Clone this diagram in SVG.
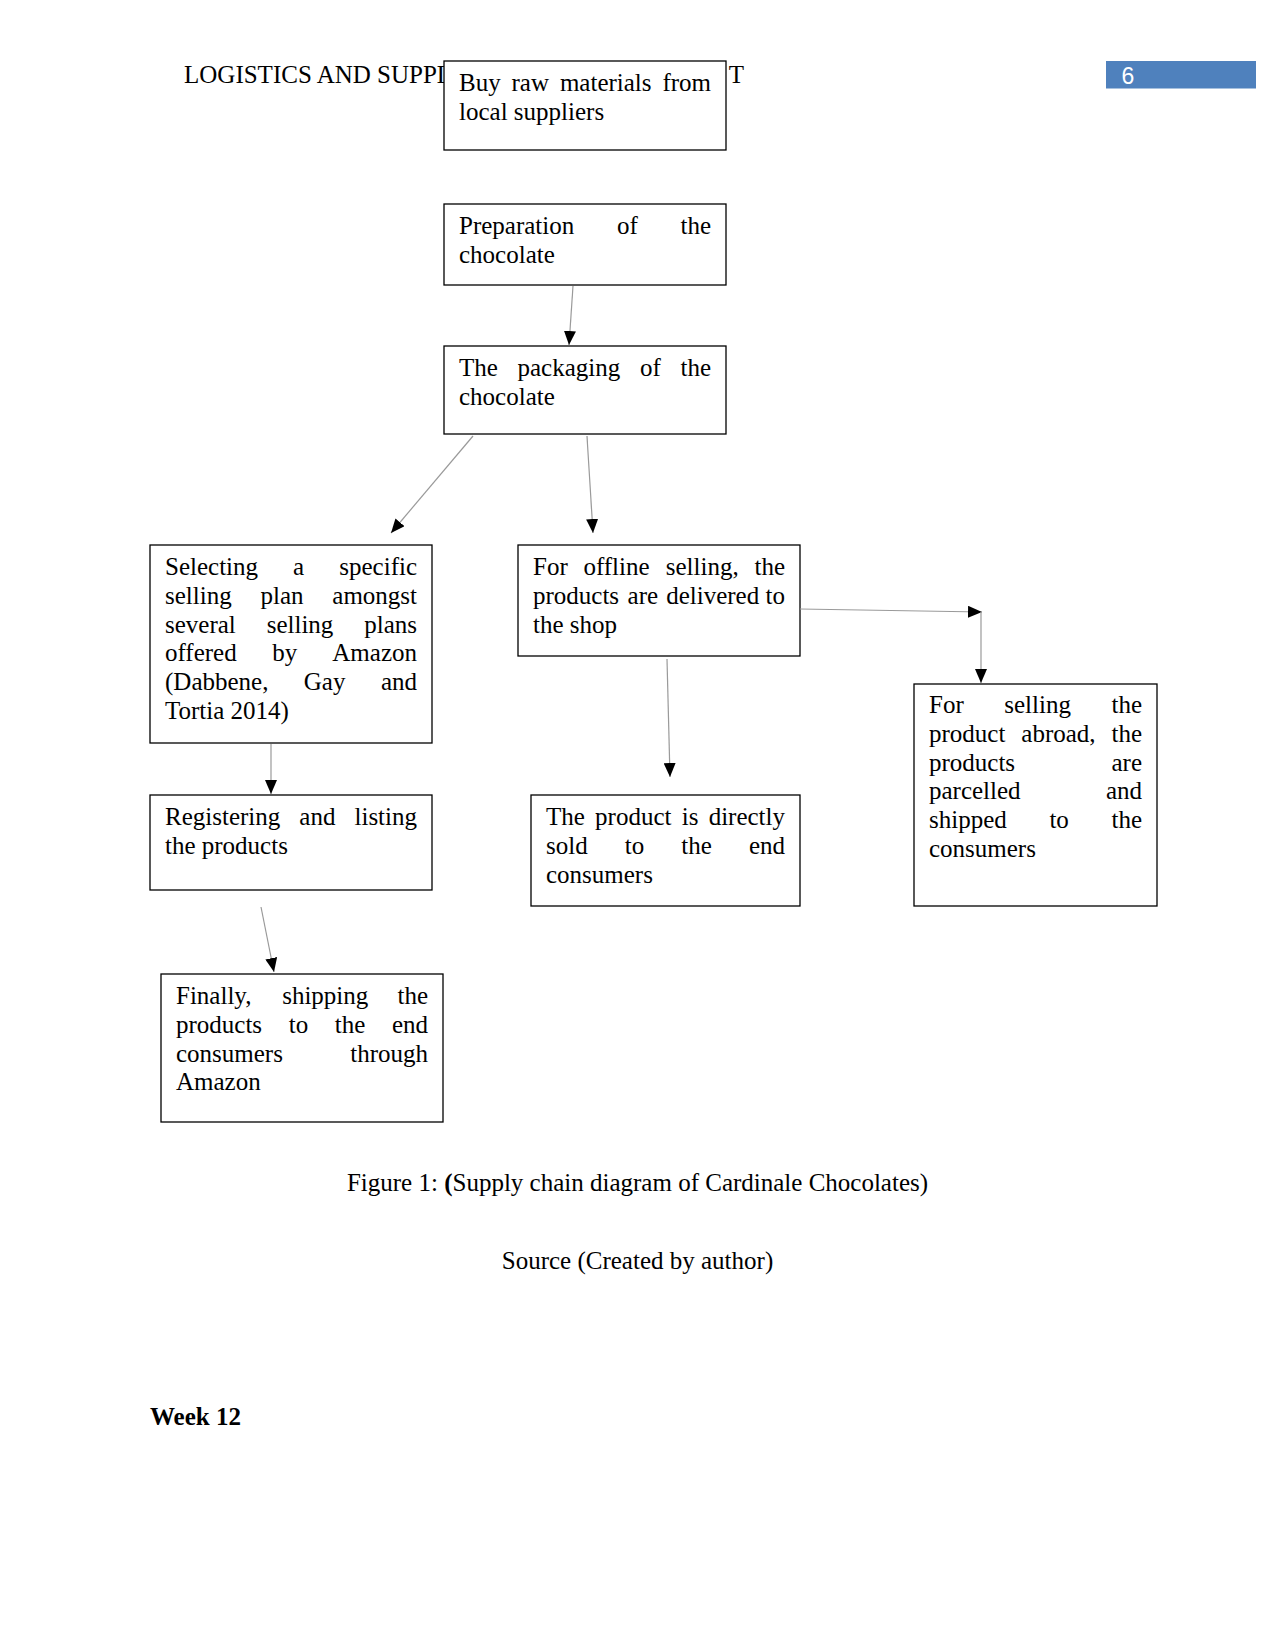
<svg xmlns="http://www.w3.org/2000/svg" width="1275" height="1650" viewBox="0 0 1275 1650">
<style>
text{font-family:"Liberation Serif","Times New Roman",serif;font-size:25px;fill:#000}
.box{fill:#fff;stroke:#000;stroke-width:1.3}
.e{text-anchor:end}
.conn line{stroke:#9a9a9a;stroke-width:1.2;marker-end:url(#arr)}
</style>
<defs>
<marker id="arr" markerUnits="userSpaceOnUse" viewBox="0 0 14 12" refX="14" refY="6" markerWidth="14" markerHeight="12" orient="auto">
<path d="M0,0 L14,6 L0,12 z" fill="#000"/>
</marker>
</defs>
<rect width="1275" height="1650" fill="#fff"/>

<g id="header">
<text x="184" y="83">LOGISTICS AND SUPPL</text>
<text x="728.7" y="83">T</text>
<rect x="1106" y="61" width="150" height="27.5" fill="#4F81BD"/>
<text x="1121.5" y="83.5" style="font-family:'Liberation Sans',Arial,sans-serif;font-size:23px;fill:#fff">6</text>
</g>

<g id="n1">
<rect class="box" x="444" y="61" width="282" height="89"/>
<text y="91"><tspan x="459">Buy</tspan><tspan x="511.5">raw</tspan><tspan x="559.9">materials</tspan><tspan x="711" class="e">from</tspan></text>
<text x="459" y="119.75">local suppliers</text>
</g>

<g id="n2">
<rect class="box" x="444" y="204" width="282" height="81"/>
<text y="234"><tspan x="459">Preparation</tspan><tspan x="617">of</tspan><tspan x="711" class="e">the</tspan></text>
<text x="459" y="262.75">chocolate</text>
</g>

<g id="n3">
<rect class="box" x="444" y="346" width="282" height="88"/>
<text y="376"><tspan x="459">The</tspan><tspan x="517.5">packaging</tspan><tspan x="639.9">of</tspan><tspan x="711" class="e">the</tspan></text>
<text x="459" y="404.75">chocolate</text>
</g>

<g id="n4">
<rect class="box" x="150" y="545" width="282" height="198"/>
<text y="575"><tspan x="165">Selecting</tspan><tspan x="293.1">a</tspan><tspan x="417" class="e">specific</tspan></text>
<text y="603.75"><tspan x="165">selling</tspan><tspan x="260.5">plan</tspan><tspan x="417" class="e">amongst</tspan></text>
<text y="632.5"><tspan x="165">several</tspan><tspan x="266.7">selling</tspan><tspan x="417" class="e">plans</tspan></text>
<text y="661.25"><tspan x="165">offered</tspan><tspan x="272.2">by</tspan><tspan x="417" class="e">Amazon</tspan></text>
<text y="690"><tspan x="165">(Dabbene,</tspan><tspan x="303.8">Gay</tspan><tspan x="417" class="e">and</tspan></text>
<text x="165" y="718.75">Tortia 2014)</text>
</g>

<g id="n5">
<rect class="box" x="518" y="545" width="282" height="111"/>
<text y="575"><tspan x="533">For</tspan><tspan x="583.4">offline</tspan><tspan x="665.8">selling,</tspan><tspan x="785" class="e">the</tspan></text>
<text y="603.75"><tspan x="533">products</tspan><tspan x="627.6">are</tspan><tspan x="666.2">delivered</tspan><tspan x="785" class="e">to</tspan></text>
<text x="533" y="632.5">the shop</text>
</g>

<g id="n6">
<rect class="box" x="914" y="684" width="243" height="222"/>
<text y="713"><tspan x="929">For</tspan><tspan x="1004.3">selling</tspan><tspan x="1142" class="e">the</tspan></text>
<text y="741.75"><tspan x="929">product</tspan><tspan x="1021.3">abroad,</tspan><tspan x="1142" class="e">the</tspan></text>
<text y="770.5"><tspan x="929">products</tspan><tspan x="1142" class="e">are</tspan></text>
<text y="799.25"><tspan x="929">parcelled</tspan><tspan x="1142" class="e">and</tspan></text>
<text y="828"><tspan x="929">shipped</tspan><tspan x="1049.4">to</tspan><tspan x="1142" class="e">the</tspan></text>
<text x="929" y="856.75">consumers</text>
</g>

<g id="n7">
<rect class="box" x="150" y="795" width="282" height="95"/>
<text y="825"><tspan x="165">Registering</tspan><tspan x="299.3">and</tspan><tspan x="417" class="e">listing</tspan></text>
<text x="165" y="853.75">the products</text>
</g>

<g id="n8">
<rect class="box" x="531" y="795" width="269" height="111"/>
<text y="825"><tspan x="546">The</tspan><tspan x="595.1">product</tspan><tspan x="681.7">is</tspan><tspan x="785" class="e">directly</tspan></text>
<text y="853.75"><tspan x="546">sold</tspan><tspan x="624.8">to</tspan><tspan x="681.3">the</tspan><tspan x="785" class="e">end</tspan></text>
<text x="546" y="882.5">consumers</text>
</g>

<g id="n9">
<rect class="box" x="161" y="974" width="282" height="148"/>
<text y="1004"><tspan x="176">Finally,</tspan><tspan x="282.2">shipping</tspan><tspan x="428" class="e">the</tspan></text>
<text y="1032.75"><tspan x="176">products</tspan><tspan x="288.7">to</tspan><tspan x="334.8">the</tspan><tspan x="428" class="e">end</tspan></text>
<text y="1061.5"><tspan x="176">consumers</tspan><tspan x="428" class="e">through</tspan></text>
<text x="176" y="1090.25">Amazon</text>
</g>

<g id="connectors" class="conn">
<line x1="573" y1="286" x2="569" y2="345"/>
<line x1="473" y1="436" x2="391" y2="533"/>
<line x1="587" y1="436" x2="593" y2="533"/>
<line x1="800" y1="609" x2="982" y2="612"/>
<line x1="981" y1="612" x2="981" y2="683"/>
<line x1="667" y1="659" x2="670" y2="777"/>
<line x1="271" y1="744" x2="271" y2="794"/>
<line x1="261" y1="907" x2="274" y2="972"/>
</g>

<g id="captions">
<text x="637.5" y="1191" text-anchor="middle">Figure 1: <tspan font-weight="bold">(</tspan>Supply chain diagram of Cardinale Chocolates)</text>
<text x="637.5" y="1269" text-anchor="middle">Source (Created by author)</text>
<text x="150" y="1425" font-weight="bold">Week 12</text>
</g>
</svg>
